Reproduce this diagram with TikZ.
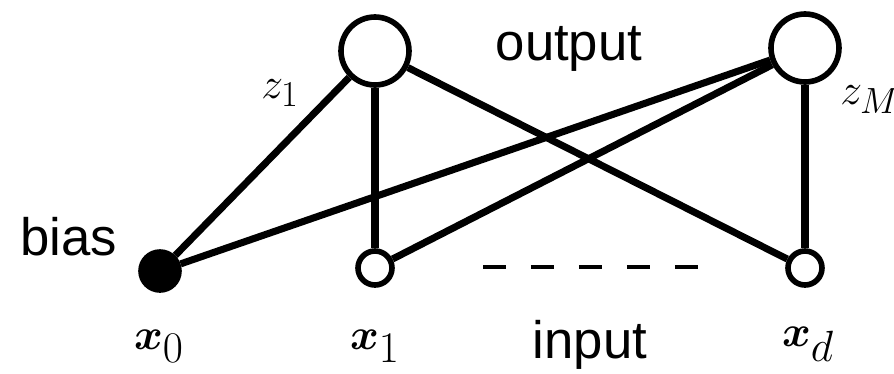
\documentclass[tikz,border=0pt]{standalone}
\usepackage{amsmath}
\usepackage{fontspec}
\setmainfont{Liberation Sans}
\usetikzlibrary{positioning}

\begin{document}
\begin{tikzpicture}[
    x=0.02cm, y=-0.02cm,
    unit/.style={circle, draw, line width=3.2pt, inner sep=0pt},
    outunit/.style={unit, minimum size=1.36cm},
    inunit/.style={unit, minimum size=0.68cm},
    biasunit/.style={unit, fill=black, minimum size=0.76cm},
    link/.style={line width=4pt},
    lbl/.style={font=\fontsize{30}{36}\selectfont, anchor=base, inner sep=0pt},
    var/.style={font=\fontsize{34}{40}\selectfont, anchor=base, inner sep=0pt},
    wvar/.style={font=\fontsize{28}{34}\selectfont, anchor=base, inner sep=0pt}
]
    \useasboundingbox (0,0) rectangle (894,373);

    % Units
    \node[outunit] (z1) at (375,51) {};
    \node[outunit] (zM) at (805,48) {};
    \node[biasunit] (x0) at (160,271) {};
    \node[inunit] (x1) at (375,268) {};
    \node[inunit] (xd) at (805,268) {};

    % Weights
    \foreach \o in {z1,zM}
        \foreach \i in {x0,x1,xd}
            \draw[link] (\o) -- (\i);

    % Dashes between inputs
    \coordinate (dl) at (483,267);
    \coordinate (dr) at (698,267);
    \draw[line width=2.6pt, dash pattern=on 13pt off 14.3pt] (dl) -- (dr);

    % Labels
    \node[lbl] (outlbl) at (569,60) {output};
    \node[lbl] (inlbl) at (590,358) {input};
    \node[lbl] (biaslbl) at (69,255) {bias};
    \node[var] (x0lbl) at (159,349) {$\boldsymbol{x}_0$};
    \node[var] (x1lbl) at (375,349) {$\boldsymbol{x}_1$};
    \node[var] (xdlbl) at (808,346) {$\boldsymbol{x}_d$};
    \node[wvar] (z1lbl) at (280,98) {$z_1$};
    \node[wvar, anchor=base west] (zMlbl) at (840,104) {$z_M$};
\end{tikzpicture}
\end{document}
